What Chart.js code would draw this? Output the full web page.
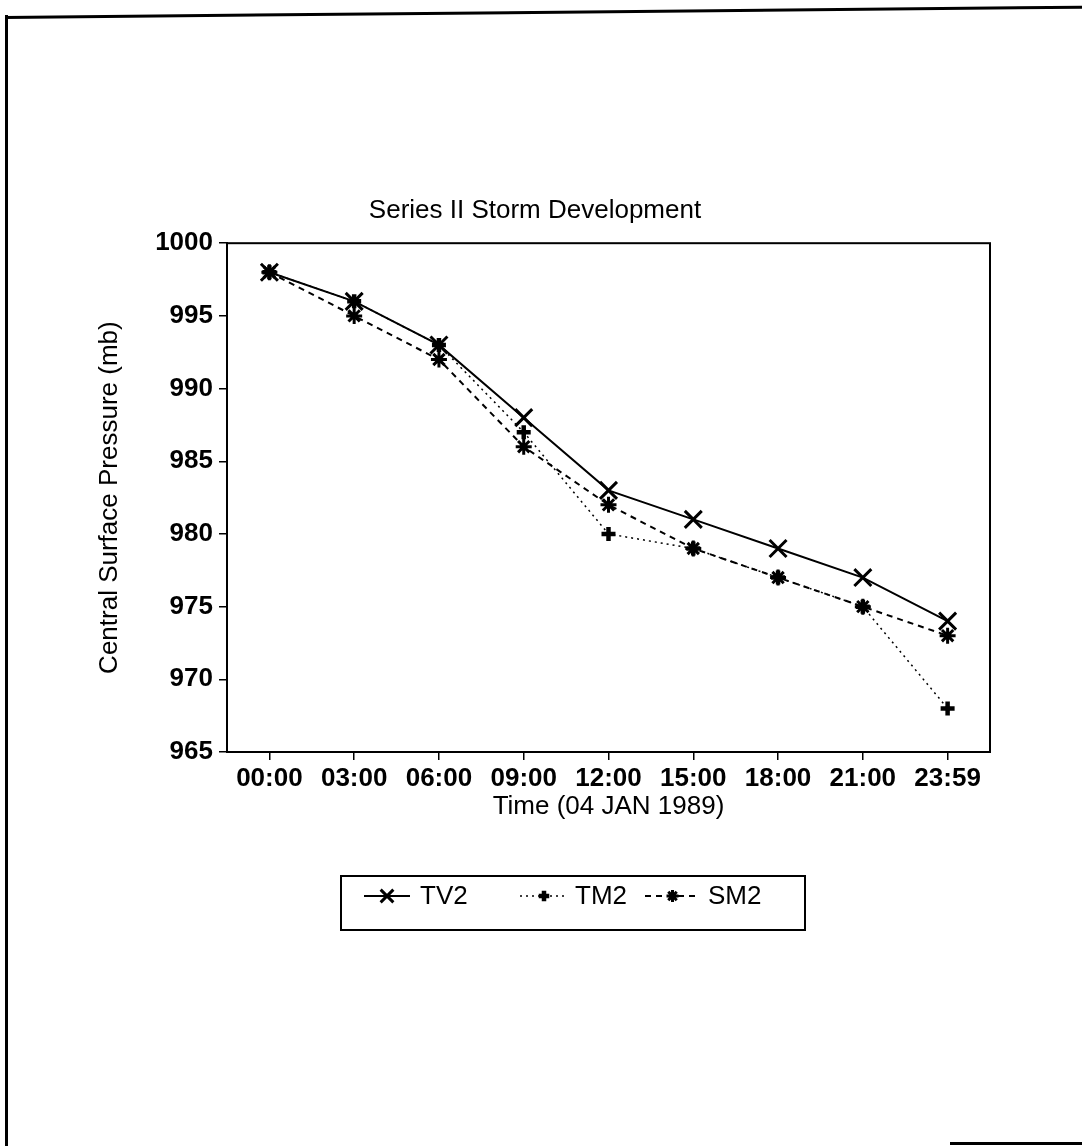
<!DOCTYPE html>
<html>
<head>
<meta charset="utf-8">
<title>Series II Storm Development</title>
<script src="https://cdn.jsdelivr.net/npm/chart.js@4.4.1/dist/chart.umd.min.js"></script>
<style>
  html, body { margin: 0; padding: 0; background: #fff; }
  body { width: 1082px; height: 1146px; position: relative; overflow: hidden; }
  #chart { position: absolute; left: 0; top: 0; }
  .edge { position: absolute; background: #000; }
</style>
</head>
<body>
<!-- page frame -->
<div class="edge" style="left:5px; top:15px; width:3px; height:1140px;"></div>
<div class="edge" style="left:5px; top:16px; width:1090px; height:3px; transform-origin:0 0; transform:rotate(-0.55deg);"></div>
<div class="edge" style="left:950px; top:1142px; width:140px; height:3px;"></div>

<canvas id="chart" width="1082" height="1146"></canvas>

<script>
// Observation times and central pressures (mb)
const categories = ['00:00', '03:00', '06:00', '09:00', '12:00', '15:00', '18:00', '21:00', '23:59'];
const tv2 = [998, 996, 993, 988, 983, 981, 979, 977, 974];
const tm2 = [998, 996, 993, 987, 980, 979, 977, 975, 968];
const sm2 = [998, 995, 992, 986, 982, 979, 977, 975, 973];
const seriesNames = ['TV2', 'TM2', 'SM2'];
const yMin = 965, yMax = 1000, yStep = 5;

const FONT = '"Liberation Sans", Arial, Helvetica, sans-serif';

// closed box around the plotting area
const frame = {
  id: 'frame',
  afterDraw(chart) {
    const { ctx, chartArea: a } = chart;
    ctx.save();
    ctx.strokeStyle = '#000';
    ctx.lineWidth = 2;
    ctx.strokeRect(a.left, a.top, a.right - a.left, a.bottom - a.top);
    ctx.restore();
  }
};

// boxed legend with line + marker samples, drawn under the axis title
const boxLegend = {
  id: 'boxLegend',
  afterDraw(chart) {
    const { ctx } = chart;
    const box = { x: 341, y: 876, w: 464, h: 54 };
    const rowY = 896;
    const entries = [
      { x0: 364, x1: 410, tx: 420 },
      { x0: 520, x1: 568, tx: 575 },
      { x0: 645, x1: 700, tx: 708 }
    ];
    ctx.save();
    ctx.strokeStyle = '#000';
    ctx.lineWidth = 2;
    ctx.strokeRect(box.x, box.y, box.w, box.h);
    chart.data.datasets.forEach((ds, i) => {
      const e = entries[i];
      ctx.save();
      ctx.strokeStyle = ds.borderColor;
      ctx.lineWidth = ds.borderWidth;
      ctx.setLineDash(ds.borderDash || []);
      ctx.beginPath();
      ctx.moveTo(e.x0, rowY);
      ctx.lineTo(e.x1, rowY);
      ctx.stroke();
      ctx.setLineDash([]);
      ctx.strokeStyle = ds.pointBorderColor;
      ctx.fillStyle = ds.pointBackgroundColor;
      ctx.lineWidth = ds.pointBorderWidth;
      Chart.helpers.drawPoint(ctx, {
        pointStyle: ds.pointStyle,
        rotation: 0,
        radius: ds.pointRadius * 0.75,
        borderWidth: ds.pointBorderWidth
      }, (e.x0 + e.x1) / 2, rowY);
      ctx.restore();
      ctx.fillStyle = '#000';
      ctx.font = '26px ' + FONT;
      ctx.textBaseline = 'middle';
      ctx.textAlign = 'left';
      ctx.fillText(ds.label, e.tx, rowY + 1);
    });
    ctx.restore();
  }
};

const tickFont = { family: FONT, size: 26, weight: 'bold' };
const titleFont = { family: FONT, size: 26, weight: 'normal' };

new Chart(document.getElementById('chart'), {
  type: 'line',
  data: {
    labels: categories,
    datasets: [
      {
        label: seriesNames[0], data: tv2,
        borderColor: '#000', borderWidth: 2, borderDash: [],
        pointStyle: 'crossRot', pointRadius: 12, pointBorderWidth: 3,
        pointBorderColor: '#000', pointBackgroundColor: '#000',
        tension: 0, fill: false
      },
      {
        label: seriesNames[1], data: tm2,
        borderColor: '#000', borderWidth: 1.5, borderDash: [2, 4],
        pointStyle: 'cross', pointRadius: 7, pointBorderWidth: 4.5,
        pointBorderColor: '#000', pointBackgroundColor: '#000',
        tension: 0, fill: false
      },
      {
        label: seriesNames[2], data: sm2,
        borderColor: '#000', borderWidth: 2, borderDash: [6, 5],
        pointStyle: 'star', pointRadius: 8, pointBorderWidth: 3,
        pointBorderColor: '#000', pointBackgroundColor: '#000',
        tension: 0, fill: false
      }
    ]
  },
  options: {
    responsive: false,
    devicePixelRatio: 1,
    animation: false,
    events: [],
    layout: { padding: { left: 80, right: 92, top: 0, bottom: 324 } },
    plugins: {
      legend: { display: false },
      tooltip: { enabled: false },
      title: {
        display: true,
        text: 'Series II Storm Development',
        color: '#000',
        font: titleFont,
        padding: { top: 195, bottom: 17 }
      }
    },
    scales: {
      x: {
        type: 'category',
        offset: true,
        grid: {
          display: true, drawOnChartArea: false, drawTicks: true,
          tickLength: 8, offset: false, color: '#000', lineWidth: 1.5
        },
        border: { display: true, color: '#000', width: 2 },
        ticks: { color: '#000', font: tickFont, padding: 3, maxRotation: 0, autoSkip: false },
        title: {
          display: true, text: 'Time (04 JAN 1989)', color: '#000',
          font: titleFont, padding: { top: 0, bottom: 0 }
        },
        afterFit(scale) { scale.height = 70; }
      },
      y: {
        min: yMin, max: yMax,
        grid: {
          display: true, drawOnChartArea: false, drawTicks: true,
          tickLength: 8, color: '#000', lineWidth: 1.5
        },
        border: { display: true, color: '#000', width: 2 },
        ticks: {
          stepSize: yStep, color: '#000', font: tickFont, padding: 6,
          callback: (v) => String(v)
        },
        title: {
          display: true, text: 'Central Surface Pressure (mb)', color: '#000',
          font: titleFont, padding: { top: 14, bottom: 0 }
        },
        afterFit(scale) { scale.width = 147; }
      }
    }
  },
  plugins: [frame, boxLegend]
});
</script>
</body>
</html>
